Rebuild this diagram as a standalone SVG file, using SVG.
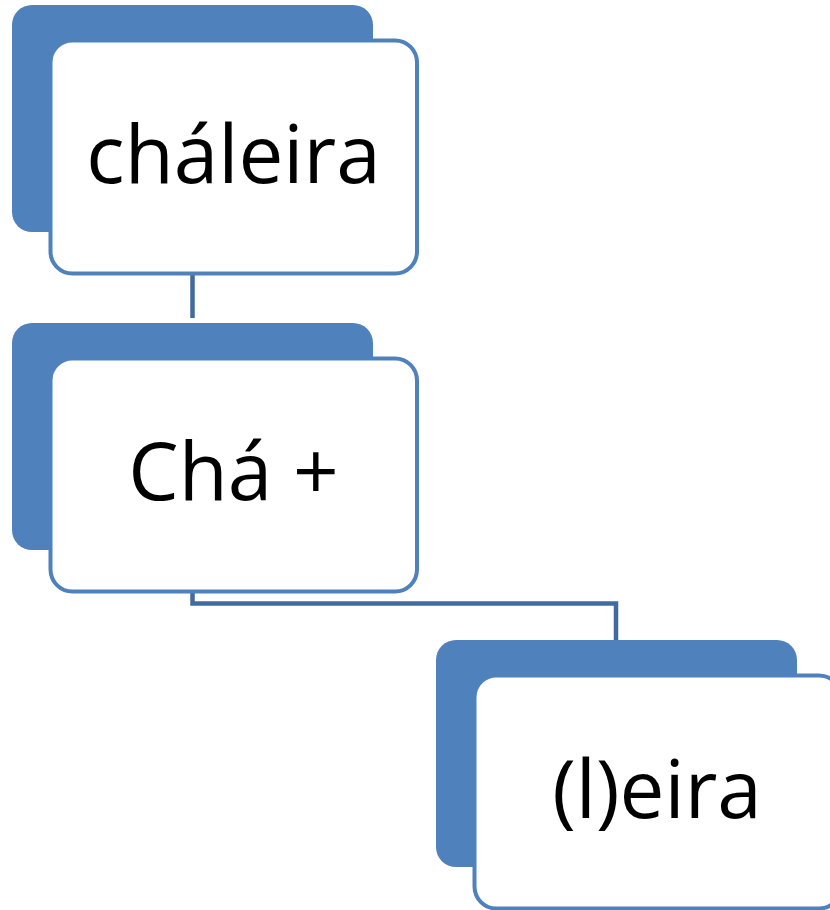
<svg xmlns="http://www.w3.org/2000/svg" width="830" height="910" viewBox="0 0 830 910">
  <style>
    .back { fill: #4f81bd; }
    .front { fill: #ffffff; stroke: #4f81bd; stroke-width: 4; }
    .conn { fill: none; stroke: #416a9f; stroke-width: 4.5; }
    .label { font-family: "Open Sans", "Noto Sans", sans-serif; font-size: 80px; fill: #000000; text-anchor: middle; }
  </style>
  <rect width="830" height="910" fill="#ffffff"/>
  <g id="connectors">
    <path class="conn" d="M192.5 275 V318"/>
    <path class="conn" d="M192.5 593 V603.5 H616 V640"/>
  </g>
  <g id="node-chaleira">
    <rect class="back" x="12" y="5" width="361" height="227" rx="20"/>
    <rect class="front" x="50.5" y="40.5" width="366.5" height="233" rx="22"/>
    <text class="label" x="233.5" y="183">cháleira</text>
  </g>
  <g id="node-cha">
    <rect class="back" x="12" y="323" width="361" height="227" rx="20"/>
    <rect class="front" x="50.5" y="358.5" width="366.5" height="233" rx="22"/>
    <text class="label" x="233.5" y="500">Chá +</text>
  </g>
  <g id="node-leira">
    <rect class="back" x="436" y="640" width="361" height="227" rx="20"/>
    <rect class="front" x="474.5" y="675.5" width="366.5" height="233" rx="22"/>
    <text class="label" x="657" y="818">(l)eira</text>
  </g>
</svg>
